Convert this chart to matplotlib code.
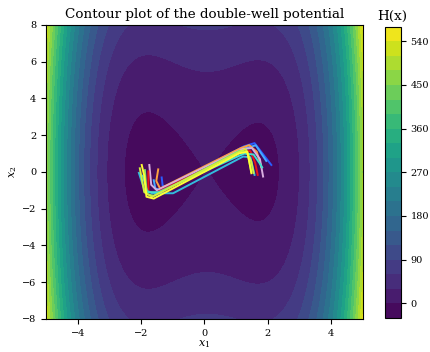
import numpy as np
import matplotlib
matplotlib.use('Agg')
import matplotlib.pyplot as plt

### potential H(x) = x1^4 - 6 x1^2 + x1 + x2^2
a4, a2, a1, b2 = 1.0, -6.0, 1.0, 1.0
x1_range = [-5, 5]
x2_range = [-8, 8]
levels = np.arange(-30, 571, 30)

### trajectories (x1, x2), drawn in this order
traj_colors = ['#2a5cff', '#44aaff', '#ffa040', '#d9aee0', '#e8141c',
               '#33bbdd', '#40e0d0', '#88e060', '#d0f040', '#ffff33']
traj_x1 = [
    [-1.35, -1.32, -1.15, 1.25, 1.58, 2.11],
    [-1.60, -1.55, -1.35, 1.30, 1.62, 1.95],
    [-1.46, -1.52, -1.40, 1.15, 1.41, 1.65, 1.79],
    [-1.74, -1.68, -1.50, 1.20, 1.50, 1.75, 1.85],
    [-1.77, -1.77, -1.55, 1.20, 1.45, 1.60, 1.68],
    [-2.07, -1.90, -1.65, -0.99, 1.22, 1.45, 1.58],
    [-1.95, -1.80, -1.45, 1.25, 1.55, 1.75, 1.82],
    [-1.88, -1.82, -1.60, 1.10, 1.35, 1.48],
    [-2.04, -1.90, -1.65, 1.05, 1.30, 1.48, 1.55],
    [-1.98, -1.90, -1.83, -1.60, 1.11, 1.35, 1.42, 1.48],
]
traj_x2 = [
    [-0.30, -0.75, -0.80, 1.40, 1.57, 0.38],
    [-0.45, -0.90, -1.00, 1.30, 1.45, 0.60],
    [0.14, -0.49, -0.90, 1.30, 1.46, 1.10, 0.28],
    [0.38, -0.70, -1.00, 1.25, 1.30, 0.70, -0.25],
    [0.03, -1.06, -1.15, 1.15, 1.13, 0.50, -0.16],
    [-0.05, -0.95, -1.16, -1.16, 0.84, 0.80, -0.16],
    [-0.20, -1.10, -1.10, 1.00, 0.95, 0.45, 0.25],
    [0.10, -1.20, -1.30, 1.15, 1.10, 0.00],
    [0.20, -1.10, -1.35, 1.05, 1.25, 0.55, -0.05],
    [0.38, -0.20, -1.35, -1.45, 1.02, 1.10, 0.50, -0.07],
]


def potential(x1, x2):
    return a4*x1**4 + a2*x1**2 + a1*x1 + b2*x2**2


plt.rcParams['font.family'] = 'DejaVu Serif'
plt.rcParams['mathtext.fontset'] = 'dejavuserif'

fig = plt.figure(figsize=(4.3, 3.52), dpi=100)
ax = fig.add_axes([0.107, 0.094, 0.737, 0.835])
cax = fig.add_axes([0.895, 0.097, 0.037, 0.827])

g1 = np.linspace(x1_range[0], x1_range[1], 400)
g2 = np.linspace(x2_range[0], x2_range[1], 400)
X1, X2 = np.meshgrid(g1, g2)
cs = ax.contourf(X1, X2, potential(X1, X2), levels=levels, cmap='viridis')

for c, xs, ys in zip(traj_colors, traj_x1, traj_x2):
    ax.plot(xs, ys, color=c, lw=1.4)

ax.set_xlim(x1_range)
ax.set_ylim(x2_range)
ax.set_title('Contour plot of the double-well potential', fontsize=9.7, pad=5)
ax.set_xlabel('$x_1$', fontsize=8, labelpad=0.5)
ax.set_ylabel('$x_2$', fontsize=8, labelpad=2)
ax.tick_params(labelsize=7)

cb = fig.colorbar(cs, cax=cax)
cb.ax.tick_params(labelsize=7)
cb.ax.set_title('H(x)', fontsize=9.7, pad=5)

fig.savefig('out.png', dpi=100)
